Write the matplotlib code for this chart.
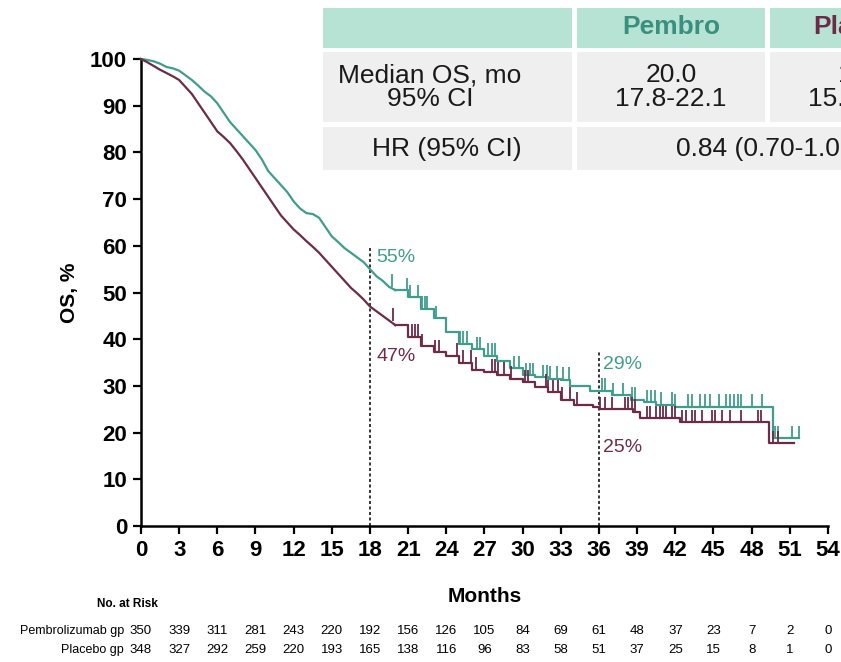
import numpy as np
import matplotlib
matplotlib.use("Agg")
import matplotlib.pyplot as plt
from matplotlib.patches import Rectangle

plt.rcParams['font.family'] = ['Liberation Sans Narrow', 'Liberation Sans', 'DejaVu Sans']

TEAL = '#3f9d8d'
MAROON = '#6c2b47'

# Kaplan-Meier points (months, OS %)
pembro_t = [0, 0.5, 1, 1.5, 2, 2.5, 3, 3.5, 4, 4.5, 5, 5.5, 6, 6.5, 7, 7.5, 8, 8.5, 9, 9.5,
            10, 10.5, 11, 11.5, 12, 12.5, 13, 13.5, 14, 14.5, 15, 15.5, 16, 16.5, 17, 17.5,
            18, 18.5, 19, 19.5, 20, 21, 22, 23, 24, 25, 26, 27, 28, 29, 30, 31, 32, 33,
            33.7, 35.3, 37.0, 38.5, 39.5, 40.5, 42.0, 49.7, 51.7]
pembro_s = [100, 99.8, 99.5, 99, 98.3, 98, 97.5, 96.5, 95.5, 94.3, 93, 92, 90.5, 88.5, 86.5, 85,
            83.5, 82, 80.5, 78.5, 76, 74.5, 73, 71.5, 69.5, 68, 67, 66.8, 66, 64, 62, 60.8,
            59.5, 58.5, 57.5, 56.5, 55, 53.5, 52.5, 51.2, 50.5, 49, 46.5, 44.5, 41.5, 39,
            37.8, 36.5, 35.3, 33.8, 32.3, 31.8, 31.5, 31.3, 29.9, 29.0, 28.0, 27.0, 26.5,
            26.0, 25.5, 18.8, 18.8]

placebo_t = [0, 0.5, 1, 1.5, 2, 2.5, 3, 3.5, 4, 4.5, 5, 5.5, 6, 6.5, 7, 7.5, 8, 8.5, 9, 9.5,
             10, 10.5, 11, 11.5, 12, 12.5, 13, 13.5, 14, 14.5, 15, 15.5, 16, 16.5, 17, 17.5,
             18, 18.5, 19, 19.5, 20, 21, 22, 23, 24, 25, 26, 27, 28, 29, 30, 31, 32, 33,
             34, 35.5, 36, 38.7, 39.2, 42.4, 49.4, 51.3]
placebo_s = [100, 99.3, 98.5, 97.7, 97, 96.3, 95.5, 94, 92.5, 90.5, 88.5, 86.5, 84.5, 83.3, 82,
             80.3, 78.5, 76.5, 74.5, 72.5, 70.5, 68.5, 66.5, 65, 63.5, 62.3, 61, 59.8, 58.5,
             57, 55.5, 54, 52.5, 51, 49.8, 48.5, 47, 46, 45, 44, 43, 40.5, 38.5, 37.2, 36.5,
             35, 33.4, 33, 32.4, 31.5, 30.8, 29.8, 28.6, 27, 26, 25.5, 25, 24.5, 23.1, 22.2,
             17.7, 17.7]

# censored observations (months)
pembro_cens = [19.75, 20.9, 21.15, 21.8, 22.07, 22.3, 22.46, 23.2, 25.1, 25.3, 25.6, 26.4,
               26.65, 27.3, 27.6, 27.8, 29.3, 29.7, 30.3, 30.6, 30.8, 31.6, 31.9, 32.15,
               32.7, 33.2, 33.65, 36.2, 36.5, 37.1, 37.9, 38.6, 38.8, 39.75, 40.1, 40.4,
               40.9, 41.7, 42.0, 43.0, 43.3, 43.9, 44.3, 44.7, 45.4, 46.0, 46.3, 46.6,
               46.96, 47.2, 48.0, 48.8, 49.8, 50.1, 51.2, 51.7]
placebo_cens = [19.8, 21.0, 21.3, 21.5, 21.8, 22.07, 23.1, 23.4, 24.8, 25.3, 25.9, 26.3,
                27.6, 27.8, 28.1, 28.5, 29.1, 30.2, 30.4, 31.8, 32.0, 32.4, 32.8, 33.07,
                33.7, 34.25, 36.1, 36.5, 37.0, 38.05, 38.3, 38.6, 38.8, 39.75, 40.0, 40.5,
                40.8, 41.06, 41.3, 41.7, 42.0, 42.5, 42.8, 43.3, 43.55, 44.1, 44.9, 45.1,
                45.65, 46.3, 47.2, 48.5, 48.7, 49.7, 50.1]

landmarks = [18, 36]
pembro_land = [55, 29]
placebo_land = [47, 25]

risk_months = np.arange(0, 55, 3)
risk_pembro = [350, 339, 311, 281, 243, 220, 192, 156, 126, 105, 84, 69, 61, 48, 37, 23, 7, 2, 0]
risk_placebo = [348, 327, 292, 259, 220, 193, 165, 138, 116, 96, 83, 58, 51, 37, 25, 15, 8, 1, 0]

W, H = 841, 662
fig = plt.figure(figsize=(W / 100, H / 100), dpi=100)
ax = fig.add_axes([141 / W, (H - 526) / H, (828 - 141) / W, (526 - 59) / H])


def step_at(t, times, surv):
    i = np.searchsorted(times, t, side='right') - 1
    return np.asarray(surv)[i]


for t, s, cens, col in [(pembro_t, pembro_s, pembro_cens, TEAL),
                        (placebo_t, placebo_s, placebo_cens, MAROON)]:
    t = np.array(t)
    s = np.array(s)
    k = np.searchsorted(t, 20) + 1
    # dense early part drawn as a jagged line, later part as steps
    ax.plot(t[:k], s[:k], color=col, lw=1.6, clip_on=False, zorder=3)
    ax.plot(t[k - 1:], s[k - 1:], drawstyle='steps-post', color=col, lw=1.6, zorder=3)
    cy = step_at(np.array(cens), t, s)
    ax.vlines(cens, cy, cy + 2.7, color=col, lw=1.3, zorder=3)

# landmark dotted lines
ax.vlines(landmarks[0], 0, 59.6, color='black', lw=1.1, linestyles=(0, (2, 1.6)), zorder=2)
ax.vlines(landmarks[1], 0, 37.3, color='black', lw=1.1, linestyles=(0, (2, 1.6)), zorder=2)

lab = dict(fontsize=14, family=['Liberation Sans', 'DejaVu Sans'], va='center', ha='left')
ax.text(18.5, 57.4, f'{pembro_land[0]}%', color=TEAL, **lab)
ax.text(18.5, 36.2, f'{placebo_land[0]}%', color=MAROON, **lab)
ax.text(36.3, 34.6, f'{pembro_land[1]}%', color=TEAL, **lab)
ax.text(36.3, 16.9, f'{placebo_land[1]}%', color=MAROON, **lab)

ax.set_xlim(0, 54)
ax.set_ylim(0, 100)
ax.set_xticks(risk_months)
ax.set_yticks(np.arange(0, 101, 10))
for sp in ['top', 'right']:
    ax.spines[sp].set_visible(False)
for sp in ['left', 'bottom']:
    ax.spines[sp].set_linewidth(1.8)
ax.tick_params(direction='out', length=6, width=1.6, labelsize=16, pad=4)
for lbl in ax.get_xticklabels() + ax.get_yticklabels():
    lbl.set_fontweight('bold')
ax.set_xlabel('Months', fontsize=15, fontweight='bold', labelpad=19)
ax.set_ylabel('OS, %', fontsize=15, fontweight='bold', labelpad=8)


def fx(px):
    return px / W


def fy(py):
    return (H - py) / H


# summary table in the upper right
cells = [(323, 8, 572, 48, '#b7e3d5'), (577, 8, 765, 48, '#b7e3d5'), (770, 8, 960, 48, '#b7e3d5'),
         (323, 52, 572, 122, '#efefef'), (577, 52, 765, 122, '#efefef'), (770, 52, 960, 122, '#efefef'),
         (323, 127, 572, 170, '#efefef'), (577, 127, 960, 170, '#efefef')]
for x0, y0, x1, y1, c in cells:
    fig.add_artist(Rectangle((fx(x0), fy(y1)), fx(x1 - x0), (y1 - y0) / H,
                             facecolor=c, edgecolor='none', transform=fig.transFigure))

tfont = ['Liberation Sans', 'DejaVu Sans']
fig.text(fx(671), fy(27), 'Pembro', color='#3a8f7f', fontsize=19, fontweight='bold',
         family=tfont, ha='center', va='center')
fig.text(fx(864), fy(27), 'Placebo', color='#6c2b47', fontsize=19, fontweight='bold',
         family=tfont, ha='center', va='center')
fig.text(fx(430), fy(87), 'Median OS, mo\n95% CI', fontsize=19, family=tfont,
         ha='center', va='center', linespacing=0.95, color='#1a1a1a')
fig.text(fx(671), fy(87), '20.0\n17.8-22.1', fontsize=19, family=tfont,
         ha='center', va='center', linespacing=0.95, color='#1a1a1a')
fig.text(fx(864), fy(87), '16.9\n15.5-18.7', fontsize=19, family=tfont,
         ha='center', va='center', linespacing=0.95, color='#1a1a1a')
fig.text(fx(447), fy(149), 'HR (95% CI)', fontsize=19, family=tfont,
         ha='center', va='center', color='#1a1a1a')
fig.text(fx(770), fy(149), '0.84 (0.70-1.01)', fontsize=19, family=tfont,
         ha='center', va='center', color='#1a1a1a')

# number at risk
fig.text(fx(97), fy(604), 'No. at Risk', fontsize=8.5, fontweight='bold', va='center', ha='left')
fig.text(fx(124), fy(631), 'Pembrolizumab gp', fontsize=9, va='center', ha='right')
fig.text(fx(124), fy(650), 'Placebo gp', fontsize=9, va='center', ha='right')
tr = ax.get_xaxis_transform()
for m, a, b in zip(risk_months, risk_pembro, risk_placebo):
    ax.text(m, (526 - 631) / 467, str(a), transform=tr, fontsize=9.5, ha='center', va='center',
            clip_on=False)
    ax.text(m, (526 - 650) / 467, str(b), transform=tr, fontsize=9.5, ha='center', va='center',
            clip_on=False)

fig.savefig('out.png', dpi=100)
